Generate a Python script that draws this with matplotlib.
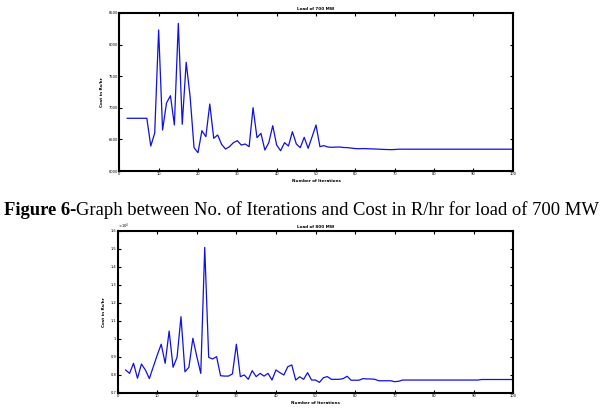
import matplotlib
matplotlib.use("Agg")
import matplotlib.pyplot as plt
from matplotlib.ticker import MultipleLocator, FuncFormatter

# ---- data ----
iters_700 = list(range(2, 101))
cost_700 = [6834, 6834, 6834, 6834, 6834, 6834, 6395, 6601, 8231, 6649,
            7076, 7191, 6728, 8337, 6739, 7720, 7176, 6369, 6290, 6638,
            6543, 7060, 6517, 6570, 6422, 6348, 6385, 6448, 6480, 6411,
            6427, 6385, 7002, 6527, 6596, 6332, 6448, 6717, 6411, 6321,
            6448, 6395, 6622, 6427, 6369, 6533, 6359, 6540, 6728, 6385,
            6401, 6380, 6375, 6378, 6380, 6372, 6370, 6362, 6355, 6352,
            6355, 6353, 6350, 6348, 6345, 6342, 6340, 6338, 6340, 6345,
            6345, 6345, 6345, 6345, 6345, 6345, 6345, 6345, 6345, 6345,
            6345, 6345, 6345, 6345, 6345, 6345, 6345, 6345, 6345, 6345,
            6345, 6345, 6345, 6345, 6345, 6345, 6345, 6345, 6345]

iters_800 = list(range(2, 101))
cost_800 = [8278, 8090, 8650, 7820, 8610, 8280, 7800, 8460, 9110, 9710,
            8650, 10440, 8430, 8980, 11240, 8180, 8430, 10040, 9020, 8090,
            15090, 8980, 8890, 9020, 7960, 7940, 7940, 8060, 9710, 7910,
            8000, 7760, 8240, 7910, 8090, 7940, 8090, 7720, 8280, 8130,
            8000, 8460, 8560, 7720, 7900, 7760, 8130, 7720, 7720, 7590,
            7850, 7910, 7760, 7760, 7760, 7800, 7930, 7710, 7710, 7710,
            7800, 7780, 7780, 7760, 7680, 7680, 7680, 7680, 7630, 7650,
            7720, 7720, 7720, 7720, 7720, 7720, 7720, 7720, 7720, 7720,
            7720, 7720, 7720, 7720, 7720, 7720, 7720, 7720, 7720, 7720,
            7750, 7750, 7750, 7750, 7750, 7750, 7750, 7750, 7750]

x_ticks = list(range(0, 101, 10))
title_700 = "Load of 700 MW"
title_800 = "Load of 800 MW"
xlabel = "Number of Iterations"
ylabel = "Cost in Rs/hr"
caption_bold = "Figure 6-"
caption_rest = "Graph between No. of Iterations and Cost in R/hr for load of 700 MW"

# ---- figure ----
fig = plt.figure(figsize=(6.10, 4.18), dpi=100)
W, H = 610, 418

def make_ax(left, top, right, bottom):
    return fig.add_axes([left / W, 1 - bottom / H, (right - left) / W, (bottom - top) / H])

ax1 = make_ax(119.3, 13, 512.7, 171)
ax2 = make_ax(117.7, 231, 513.3, 393)

tick_fs = 2.6
lab_fs = 3.0
line_col = "#1010e0"

for ax, x, y, ttl in [(ax1, iters_700, cost_700, title_700), (ax2, iters_800, cost_800, title_800)]:
    ax.plot(x, y, color=line_col, lw=0.9)
    ax.set_xlim(0, 100)
    ax.set_xticks(x_ticks)
    ax.tick_params(direction="in", length=2.5, width=0.8, labelsize=tick_fs, pad=1,
                   top=True, right=True, colors="black")
    for s in ax.spines.values():
        s.set_linewidth(1.5)
    ax.set_title(ttl, fontsize=lab_fs, fontweight="bold", pad=2)
    ax.set_xlabel(xlabel, fontsize=lab_fs, fontweight="bold", labelpad=2)
    ax.set_ylabel(ylabel, fontsize=lab_fs, fontweight="bold", labelpad=3)

ax1.set_ylim(6000, 8500)
ax1.yaxis.set_major_locator(MultipleLocator(500))
ax1.yaxis.set_major_formatter(FuncFormatter(lambda v, p: f"{v:g}"))

ax2.set_ylim(7000, 16000)
ax2.yaxis.set_major_locator(MultipleLocator(1000))
ax2.yaxis.set_major_formatter(FuncFormatter(lambda v, p: f"{v/1e4:g}"))
ax2.text(0.0, 1.0, r"$\times10^4$", transform=ax2.transAxes, fontsize=tick_fs,
         ha="left", va="bottom")

cap_fs = 13.45
t1 = fig.text(4 / W, 1 - 215 / H, caption_bold, fontsize=cap_fs, fontweight="bold",
              family="Liberation Serif", ha="left", va="baseline")
fig.canvas.draw()
bb = t1.get_window_extent(renderer=fig.canvas.get_renderer())
fig.text(bb.x1 / W, 1 - 215 / H, caption_rest, fontsize=cap_fs,
         family="Liberation Serif", ha="left", va="baseline")

fig.savefig("out.png", dpi=100)
